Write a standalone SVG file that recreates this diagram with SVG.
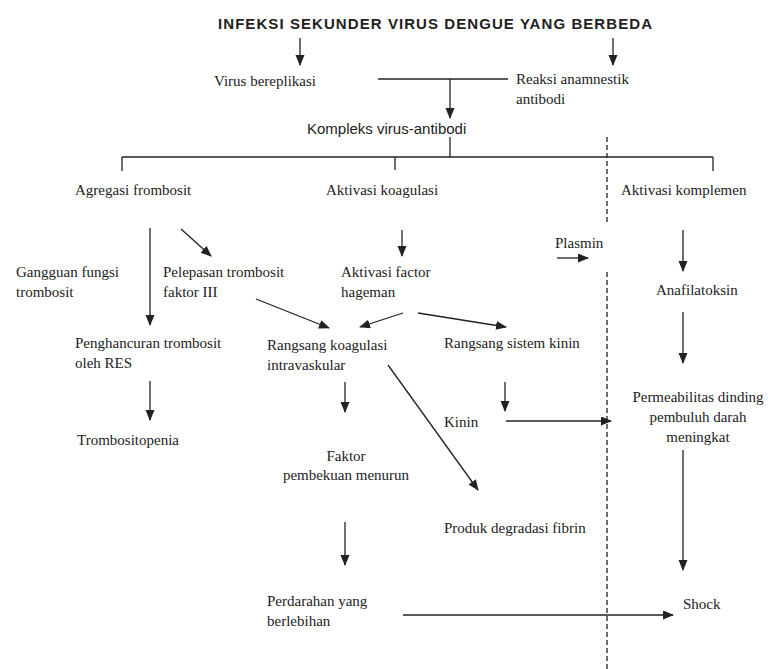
<svg xmlns="http://www.w3.org/2000/svg" width="768" height="669" viewBox="0 0 768 669">
<style>
.t{font-family:'Liberation Serif','DejaVu Serif',serif;font-size:15px;fill:#222}
.s{font-family:'Liberation Sans',Arial,sans-serif;font-size:15px;fill:#222}
.b{font-family:'Liberation Sans',Arial,sans-serif;font-size:15px;font-weight:bold;fill:#222}
.c line{stroke:#222;stroke-width:1.3;fill:none}
.c .a{marker-end:url(#ah)}
.c .d{stroke-dasharray:5 3}
</style>
<defs>
<marker id="ah" markerUnits="userSpaceOnUse" markerWidth="12" markerHeight="10" refX="10" refY="4.5" orient="auto">
<path d="M0,0 L11,4.5 L0,9 Z" fill="#222"/>
</marker>
</defs>
<rect width="768" height="669" fill="#fff"/>
<g class="c" id="connectors">
<line class="a" x1="300" y1="38" x2="300" y2="65"/>
<line class="a" x1="613" y1="38" x2="613" y2="65"/>
<line x1="378" y1="79" x2="508" y2="79"/>
<line class="a" x1="450" y1="79" x2="450" y2="118"/>
<line x1="450" y1="137" x2="450" y2="157"/>
<line x1="122" y1="157" x2="713" y2="157"/>
<line x1="122" y1="157" x2="122" y2="171"/>
<line x1="395" y1="157" x2="395" y2="170"/>
<line x1="713" y1="157" x2="713" y2="171"/>
<line class="a" x1="150" y1="228" x2="150" y2="325"/>
<line class="a" x1="181" y1="229" x2="211" y2="256"/>
<line class="a" x1="402" y1="230" x2="402" y2="256"/>
<line class="a" x1="557" y1="258" x2="588" y2="258"/>
<line class="a" x1="683" y1="230" x2="683" y2="271"/>
<line class="a" x1="256" y1="299" x2="329" y2="328"/>
<line class="a" x1="403" y1="313" x2="360" y2="327"/>
<line class="a" x1="418" y1="313" x2="506" y2="327"/>
<line class="a" x1="683" y1="312" x2="683" y2="363"/>
<line class="a" x1="150" y1="381" x2="150" y2="420"/>
<line class="a" x1="345" y1="382" x2="345" y2="412"/>
<line class="a" x1="505" y1="382" x2="505" y2="411"/>
<line class="a" x1="506" y1="421" x2="611" y2="421"/>
<line class="a" x1="388" y1="365" x2="478" y2="490"/>
<line class="a" x1="683" y1="450" x2="683" y2="570"/>
<line class="a" x1="345" y1="522" x2="345" y2="565"/>
<line class="a" x1="403" y1="615" x2="673" y2="615"/>
<line class="d" x1="607" y1="137" x2="607" y2="225"/>
<line class="d" x1="607" y1="272" x2="607" y2="669"/>
</g>
<g id="title"><text class="b" x="218" y="29" textLength="434" lengthAdjust="spacing">INFEKSI SEKUNDER VIRUS DENGUE YANG BERBEDA</text></g>
<g id="virus"><text class="t" x="214" y="86">Virus bereplikasi</text></g>
<g id="reaksi"><text class="t" x="516" y="84">Reaksi anamnestik</text><text class="t" x="516" y="104">antibodi</text></g>
<g id="kompleks"><text class="s" x="307" y="134">Kompleks virus-antibodi</text></g>
<g id="agregasi"><text class="t" x="75" y="195">Agregasi frombosit</text></g>
<g id="koagulasi"><text class="t" x="326" y="195">Aktivasi koagulasi</text></g>
<g id="komplemen"><text class="t" x="621" y="195">Aktivasi komplemen</text></g>
<g id="gangguan"><text class="t" x="16" y="277">Gangguan fungsi</text><text class="t" x="16" y="297">trombosit</text></g>
<g id="pelepasan"><text class="t" x="163" y="277">Pelepasan trombosit</text><text class="t" x="163" y="297">faktor III</text></g>
<g id="hageman"><text class="t" x="341" y="277">Aktivasi factor</text><text class="t" x="341" y="297">hageman</text></g>
<g id="plasmin"><text class="t" x="555" y="248">Plasmin</text></g>
<g id="anafilatoksin"><text class="t" x="656" y="295">Anafilatoksin</text></g>
<g id="penghancuran"><text class="t" x="75" y="348">Penghancuran trombosit</text><text class="t" x="75" y="368">oleh RES</text></g>
<g id="rangsang-koagulasi"><text class="t" x="267" y="350">Rangsang koagulasi</text><text class="t" x="267" y="370">intravaskular</text></g>
<g id="rangsang-kinin"><text class="t" x="444" y="348">Rangsang sistem  kinin</text></g>
<g id="trombositopenia"><text class="t" x="77" y="445">Trombositopenia</text></g>
<g id="kinin"><text class="t" x="444" y="427">Kinin</text></g>
<g id="permeabilitas"><text class="t" x="698" y="402" text-anchor="middle">Permeabilitas  dinding</text><text class="t" x="698" y="422" text-anchor="middle">pembuluh darah</text><text class="t" x="698" y="442" text-anchor="middle">meningkat</text></g>
<g id="faktor"><text class="t" x="346" y="461" text-anchor="middle">Faktor</text><text class="t" x="346" y="480" text-anchor="middle">pembekuan menurun</text></g>
<g id="produk"><text class="t" x="444" y="533">Produk degradasi fibrin</text></g>
<g id="perdarahan"><text class="t" x="267" y="606">Perdarahan yang</text><text class="t" x="267" y="626">berlebihan</text></g>
<g id="shock"><text class="t" x="683" y="609">Shock</text></g>
</svg>
